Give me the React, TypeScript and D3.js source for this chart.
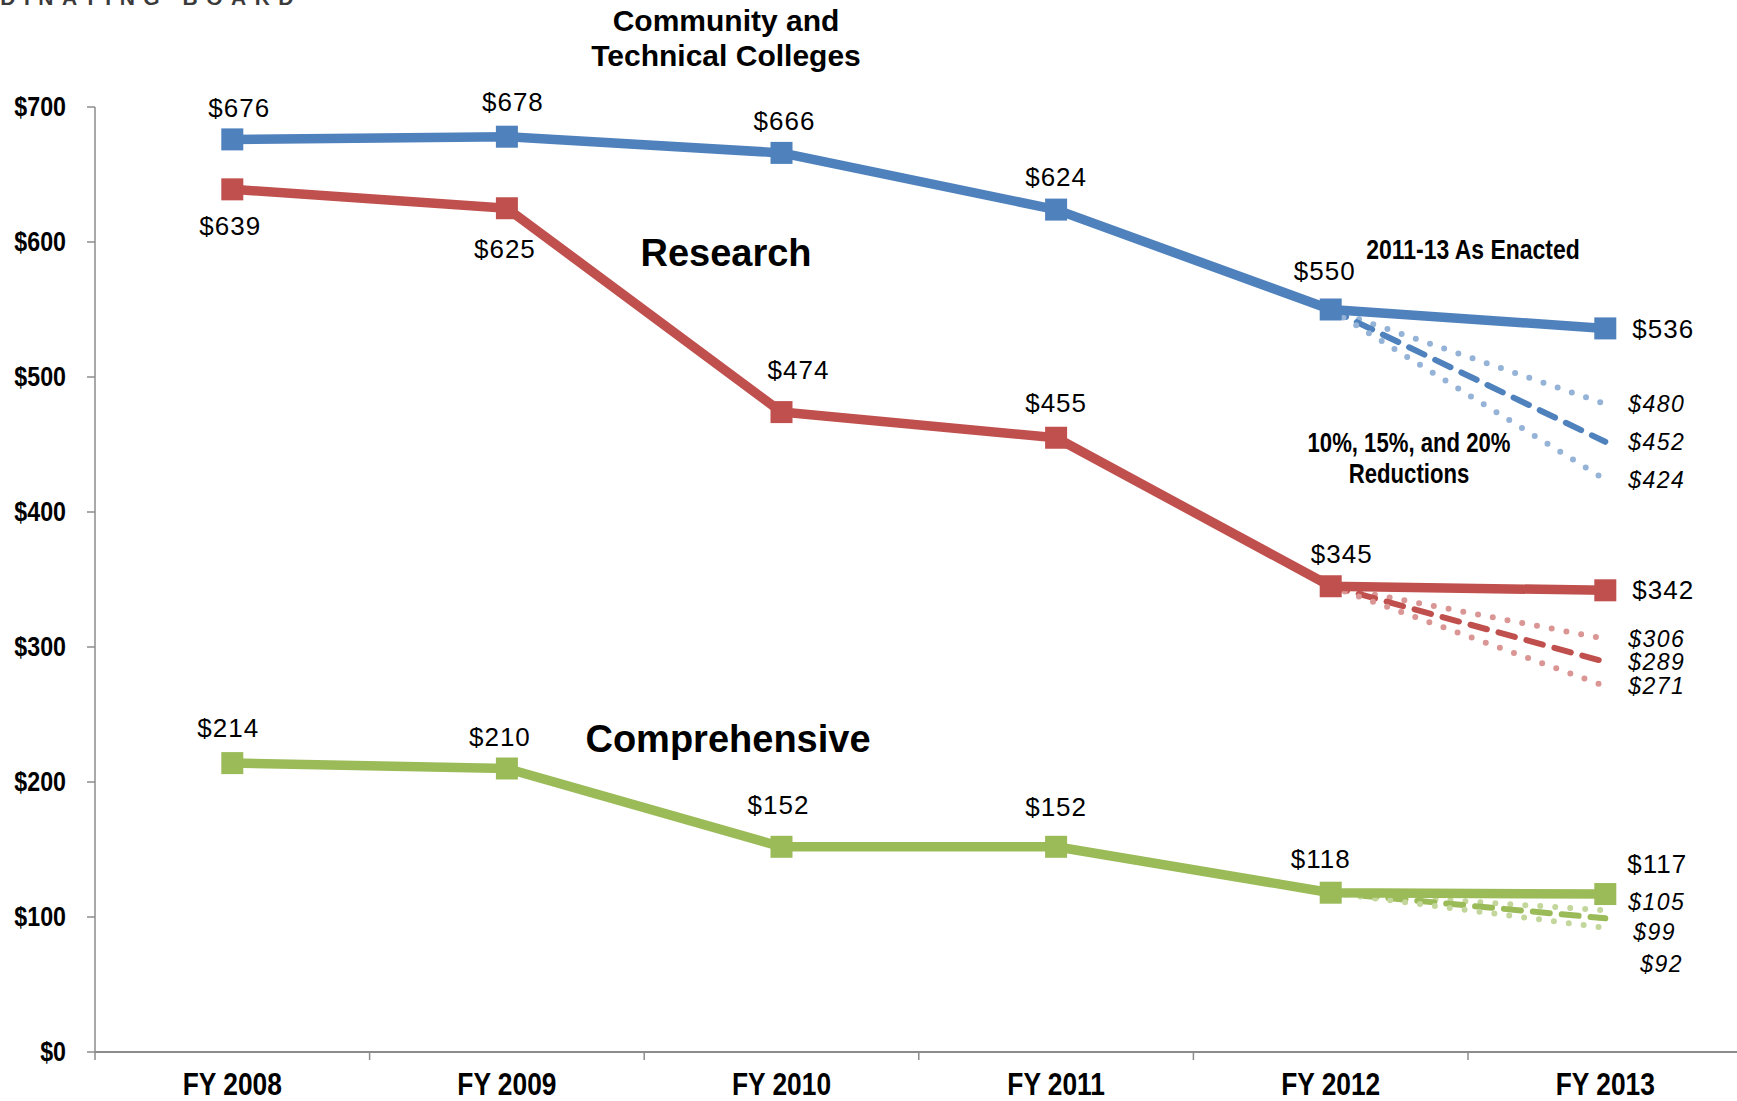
import React from 'react'
import * as d3 from 'd3'

const years = ['FY 2008', 'FY 2009', 'FY 2010', 'FY 2011', 'FY 2012', 'FY 2013']
const yTicks = [0, 100, 200, 300, 400, 500, 600, 700]

const communityTech = [676, 678, 666, 624, 550, 536]
const research = [639, 625, 474, 455, 345, 342]
const comprehensive = [214, 210, 152, 152, 118, 117]

// FY 2013 with 10%, 15% and 20% reductions from FY 2012
const communityTechCuts = [480, 452, 424]
const researchCuts = [306, 289, 271]
const comprehensiveCuts = [105, 99, 92]

const W = 1737
const H = 1101
const margin = { left: 95, top: 107, bottom: 1052 }
const bandW = 274.6

const sans = "'Liberation Sans', Arial, Helvetica, sans-serif"

const series = [
  {
    values: communityTech, cuts: communityTechCuts,
    color: '#4F81BD', light: '#95B3D7',
    offsets: [[7, -32], [6, -35], [3, -32], [0, -33], [-6, -39], [27, 0]],
    cutOffsets: [[23, 0], [23, 0], [23, 0]]
  },
  {
    values: research, cuts: researchCuts,
    color: '#C0504D', light: '#DA9694',
    offsets: [[-2, 37], [-2, 41], [17, -42], [0, -35], [11, -32], [27, 0]],
    cutOffsets: [[23, 0], [23, 0], [23, 0]]
  },
  {
    values: comprehensive, cuts: comprehensiveCuts,
    color: '#9BBB59', light: '#C3D69B',
    offsets: [[-4, -35], [-7, -32], [-3, -42], [0, -40], [-10, -34], [22, -30]],
    cutOffsets: [[23, -8], [28, 14], [35, 36]]
  }
]

const Narrow = ({ x, y, size, sx = 0.82, anchor = 'middle', children }: any) => (
  <text transform={`translate(${x},${y}) scale(${sx},1)`} textAnchor={anchor}
    fontFamily={sans} fontWeight="bold" fontSize={size} fill="#000">{children}</text>
)

export default function App() {
  const x = d3.scaleBand().domain(years).range([margin.left, margin.left + bandW * years.length])
  const y = d3.scaleLinear().domain([0, 700]).range([margin.bottom, margin.top])
  const cx = (i: number) => (x(years[i]) as number) + x.bandwidth() / 2
  const line = d3.line<number>().x((_, i) => cx(i)).y(d => y(d))
  const last = years.length - 1

  return (
    <svg width={W} height={H} style={{ position: 'absolute', left: 0, top: 0, background: '#fff' }}>
      {/* clipped header */}
      <text x={302} y={5} textAnchor="end" fontFamily={sans} fontWeight="bold" fontSize={21}
        letterSpacing={8.5} fill="#3a3a3a">COORDINATING BOARD</text>

      {/* axes */}
      <line x1={margin.left} x2={margin.left} y1={y(700)} y2={y(0)} stroke="#8c8c8c" strokeWidth={1.5} />
      {yTicks.map(t => (
        <g key={t}>
          <line x1={margin.left - 8} x2={margin.left} y1={y(t)} y2={y(t)} stroke="#8c8c8c" strokeWidth={1.5} />
          <Narrow x={66} y={y(t) + 9} size={27} sx={0.86} anchor="end">${t}</Narrow>
        </g>
      ))}
      <line x1={margin.left} x2={margin.left + bandW * years.length} y1={y(0)} y2={y(0)} stroke="#8c8c8c" strokeWidth={2} />
      {years.map((c, i) => (
        <g key={c}>
          <line x1={x(c)} x2={x(c)} y1={y(0)} y2={y(0) + 8} stroke="#8c8c8c" strokeWidth={1.5} />
          <Narrow x={cx(i)} y={1095} size={31} sx={0.85}>{c}</Narrow>
        </g>
      ))}

      {/* reduction scenarios */}
      {series.map((s, si) => (
        <g key={'cut' + si}>
          {s.cuts.map((v, k) => (
            <line key={k} x1={cx(last - 1)} y1={y(s.values[last - 1])} x2={cx(last)} y2={y(v)}
              stroke={k === 1 ? s.color : s.light} strokeWidth={6} strokeLinecap="round"
              strokeDasharray={k === 1 ? '17 12' : '0 15'} />
          ))}
          {s.cuts.map((v, k) => (
            <text key={'l' + k} x={cx(last) + s.cutOffsets[k][0]} y={y(v) + s.cutOffsets[k][1]} dy="0.35em"
              fontFamily={sans} fontStyle="italic" fontSize={23} letterSpacing={1.4}>${v}</text>
          ))}
        </g>
      ))}

      {/* main lines */}
      {series.map((s, si) => (
        <g key={'s' + si}>
          <path d={line(s.values) as string} fill="none" stroke={s.color} strokeWidth={9.5} strokeLinejoin="round" />
          {s.values.map((v, i) => (
            <rect key={i} x={cx(i) - 11} y={y(v) - 11} width={22} height={22} fill={s.color} />
          ))}
          {s.values.map((v, i) => (
            <text key={'t' + i} x={cx(i) + s.offsets[i][0]} y={y(v) + s.offsets[i][1]} dy="0.35em"
              textAnchor={i === last ? 'start' : 'middle'} fontFamily={sans} fontSize={26}
              letterSpacing={1} fill="#000">${v}</text>
          ))}
        </g>
      ))}

      {/* annotations */}
      <text x={726} y={31} textAnchor="middle" fontFamily={sans} fontWeight="bold" fontSize={30}>Community and</text>
      <text x={726} y={66} textAnchor="middle" fontFamily={sans} fontWeight="bold" fontSize={30}>Technical Colleges</text>
      <text x={726} y={266} textAnchor="middle" fontFamily={sans} fontWeight="bold" fontSize={38}>Research</text>
      <text x={728} y={752} textAnchor="middle" fontFamily={sans} fontWeight="bold" fontSize={38}>Comprehensive</text>
      <Narrow x={1473} y={259} size={28}>2011-13 As Enacted</Narrow>
      <Narrow x={1409} y={452} size={27}>10%, 15%, and 20%</Narrow>
      <Narrow x={1409} y={483} size={27}>Reductions</Narrow>
    </svg>
  )
}
